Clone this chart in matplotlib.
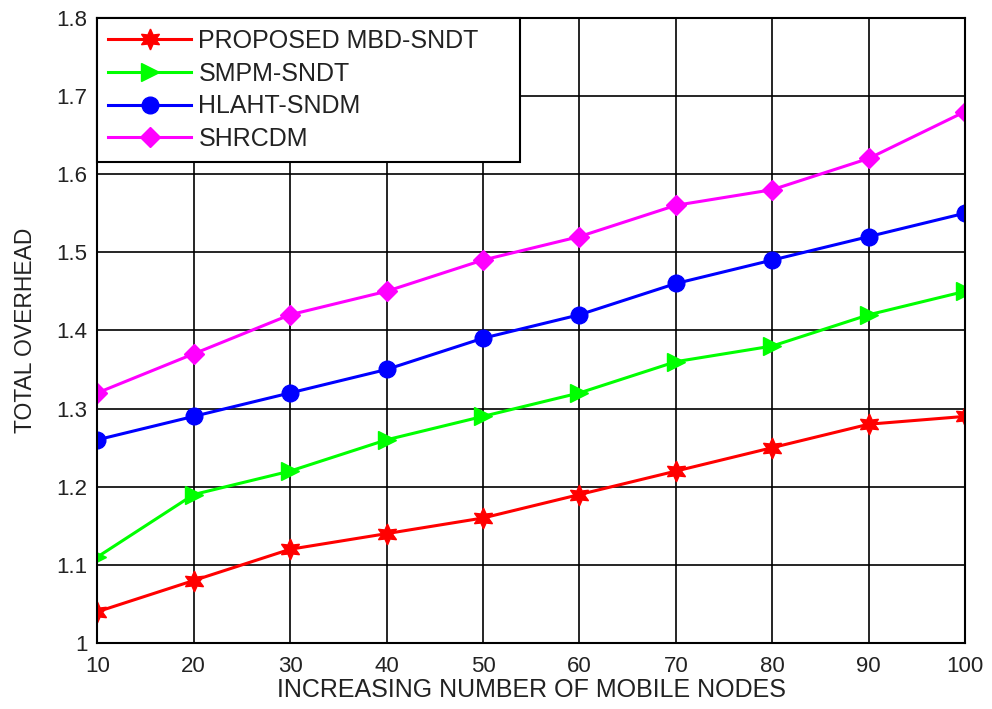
import matplotlib
matplotlib.use("Agg")
import matplotlib.pyplot as plt

nodes = [10, 20, 30, 40, 50, 60, 70, 80, 90, 100]
mbd_sndt = [1.04, 1.08, 1.12, 1.14, 1.16, 1.19, 1.22, 1.25, 1.28, 1.29]
smpm_sndt = [1.11, 1.19, 1.22, 1.26, 1.29, 1.32, 1.36, 1.38, 1.42, 1.45]
hlaht_sndm = [1.26, 1.29, 1.32, 1.35, 1.39, 1.42, 1.46, 1.49, 1.52, 1.55]
shrcdm = [1.32, 1.37, 1.42, 1.45, 1.49, 1.52, 1.56, 1.58, 1.62, 1.68]
yticks = [1, 1.1, 1.2, 1.3, 1.4, 1.5, 1.6, 1.7, 1.8]
ytick_labels = ["1", "1.1", "1.2", "1.3", "1.4", "1.5", "1.6", "1.7", "1.8"]

plt.rcParams['font.family'] = ['Liberation Sans', 'DejaVu Sans']

fig = plt.figure(figsize=(9.92, 7.09), dpi=100)
ax = fig.add_axes([0.098, 0.093, 0.875, 0.882])

ax.plot(nodes, mbd_sndt, color='red', lw=2.2, marker=(6, 1, 0), ms=15, label="PROPOSED MBD-SNDT")
ax.plot(nodes, smpm_sndt, color='#00ff00', lw=2.2, marker='>', ms=13, label="SMPM-SNDT")
ax.plot(nodes, hlaht_sndm, color='blue', lw=2.2, marker='o', ms=12, label="HLAHT-SNDM")
ax.plot(nodes, shrcdm, color='magenta', lw=2.2, marker='D', ms=10, label="SHRCDM")

ax.set_xlim(10, 100)
ax.set_ylim(1, 1.8)
ax.set_xticks(nodes)
ax.set_yticks(yticks)
ax.set_yticklabels(ytick_labels)
ax.tick_params(labelsize=16, direction='in', length=0, labelcolor='#222222')
ax.tick_params(axis='x', pad=9)
ax.tick_params(axis='y', pad=7)
ax.grid(True, color='black', lw=1.2, ls='-')
for s in ax.spines.values():
    s.set_linewidth(1.5)

ax.set_xlabel("INCREASING NUMBER OF MOBILE NODES", fontsize=18, labelpad=1, color='#222222')
ax.set_ylabel("TOTAL OVERHEAD", fontsize=16.5, labelpad=14, color='#222222')

# legend box stretched to the width seen in the original
leg = ax.legend(loc='upper left', bbox_to_anchor=(0, 1, 0.487, 0), mode='expand',
                fontsize=18, fancybox=False, framealpha=1,
                edgecolor='black', borderaxespad=0, handlelength=3.3,
                handletextpad=0.3, labelspacing=0.35, borderpad=0.45)
leg.get_frame().set_linewidth(1.5)
for t in leg.get_texts():
    t.set_color('#222222')

fig.savefig("out.png", dpi=100)
